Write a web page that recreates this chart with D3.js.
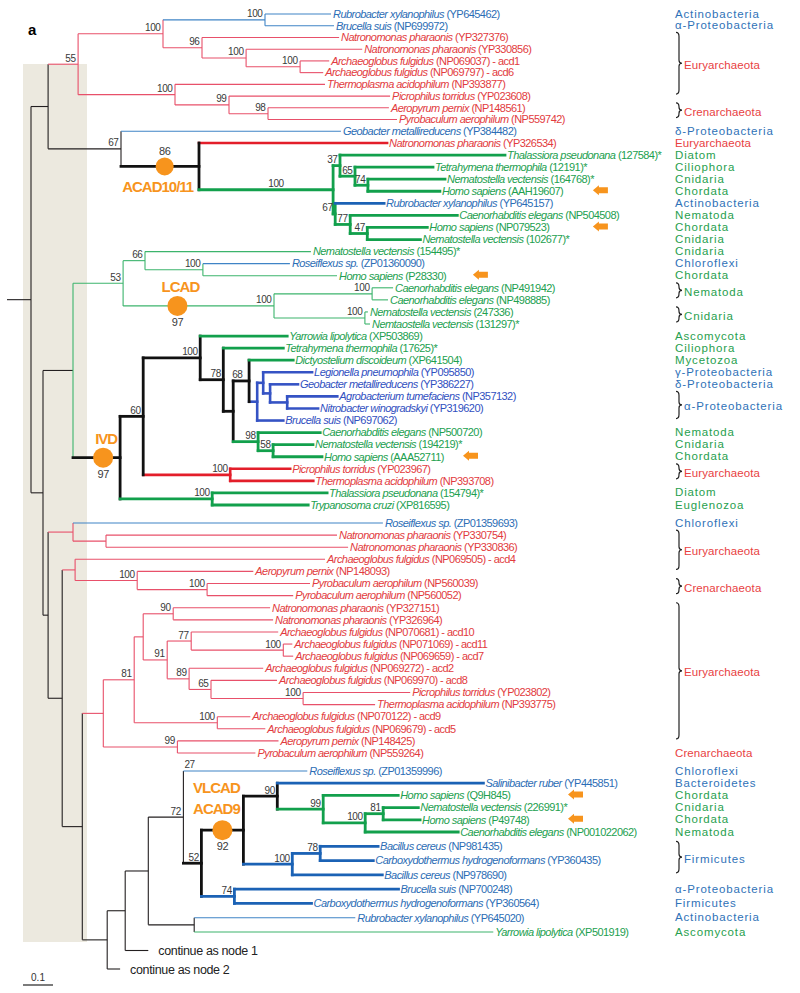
<!DOCTYPE html>
<html><head><meta charset="utf-8">
<script src="https://cdn.jsdelivr.net/npm/d3@7"></script>
<style>body{margin:0;background:#fff}svg{display:block}</style>
</head><body><svg id="c" width="800" height="993"></svg>
<script>
// ---------------- DATA ----------------
const species = ["Rubrobacter xylanophilus","Brucella suis","Natronomonas pharaonis","Natronomonas pharaonis","Archaeoglobus fulgidus","Archaeoglobus fulgidus","Thermoplasma acidophilum","Picrophilus torridus","Aeropyrum pernix","Pyrobaculum aerophilum",
"Geobacter metallireducens","Natronomonas pharaonis","Thalassiora pseudonana","Tetrahymena thermophila","Nematostella vectensis","Homo sapiens","Rubrobacter xylanophilus","Caenorhabditis elegans","Homo sapiens","Nematostella vectensis",
"Nematostella vectensis","Roseiflexus sp.","Homo sapiens","Caenorhabditis elegans","Caenorhabditis elegans","Nematostella vectensis","Nemtaostella vectensis","Yarrowia lipolytica","Tetrahymena thermophila","Dictyostelium discoideum",
"Legionella pneumophila","Geobacter metallireducens","Agrobacterium tumefaciens","Nitrobacter winogradskyi","Brucella suis","Caenorhabditis elegans","Nematostella vectensis","Homo sapiens","Picrophilus torridus","Thermoplasma acidophilum",
"Thalassiora pseudonana","Trypanosoma cruzi","Roseiflexus sp.","Natronomonas pharaonis","Natronomonas pharaonis","Archaeoglobus fulgidus","Aeropyrum pernix","Pyrobaculum aerophilum","Pyrobaculum aerophilum","Natronomonas pharaonis",
"Natronomonas pharaonis","Archaeoglobus fulgidus","Archaeoglobus fulgidus","Archaeoglobus fulgidus","Archaeoglobus fulgidus","Archaeoglobus fulgidus","Picrophilus torridus","Thermoplasma acidophilum","Archaeoglobus fulgidus","Archaeoglobus fulgidus",
"Aeropyrum pernix","Pyrobaculum aerophilum","Roseiflexus sp.","Salinibacter ruber","Homo sapiens","Nematostella vectensis","Homo sapiens","Caenorhabditis elegans","Bacillus cereus","Carboxydothermus hydrogenoformans",
"Bacillus cereus","Brucella suis","Carboxydothermus hydrogenoformans","Rubrobacter xylanophilus","Yarrowia lipolytica"];
const accession = ["(YP645462)","(NP699972)","(YP327376)","(YP330856)","(NP069037) - acd1","(NP069797) - acd6","(NP393877)","(YP023608)","(NP148561)","(NP559742)",
"(YP384482)","(YP326534)","(127584)*","(12191)*","(164768)*","(AAH19607)","(YP645157)","(NP504508)","(NP079523)","(102677)*",
"(154495)*","(ZP01360090)","(P28330)","(NP491942)","(NP498885)","(247336)","(131297)*","(XP503869)","(17625)*","(XP641504)",
"(YP095850)","(YP386227)","(NP357132)","(YP319620)","(NP697062)","(NP500720)","(194219)*","(AAA52711)","(YP023967)","(NP393708)",
"(154794)*","(XP816595)","(ZP01359693)","(YP330754)","(YP330836)","(NP069505) - acd4","(NP148093)","(NP560039)","(NP560052)","(YP327151)",
"(YP326964)","(NP070681) - acd10","(NP071069) - acd11","(NP069659) - acd7","(NP069272) - acd2","(NP069970) - acd8","(YP023802)","(NP393775)","(NP070122) - acd9","(NP069679) - acd5",
"(NP148425)","(NP559264)","(ZP01359996)","(YP445851)","(Q9H845)","(226991)*","(P49748)","(NP001022062)","(NP981435)","(YP360435)",
"(NP978690)","(NP700248)","(YP360564)","(YP645020)","(XP501919)"];
const stubLabels = ["continue as node 1","continue as node 2"]; // pseudo-leaves 76, 77

// Tree topology (Newick-like): leaf : branch length # branch style ; internal ) support [^ = label at top, ~ = label mid-branch] ! marker
const cladeTop = "(((1:0.220#b,2:0.230#b)100:0.340#b,(3:0.457#r,(4:0.387#r,(5:0.097#r,6:0.077#r)100:0.180#r)100:0.147#r)96:0.130#r)100:0.283#r,(7:0.500#r,(8:0.537#r,(9:0.403#r,10:0.430#r)98:0.130#r)99:0.180#r)100:0.323#r)55:0.100#r";
const cladeACAD10 = "(11:0.733#b,(12:0.627#R,((13:0.550#G,(14:0.260#G,(15:0.257#G,16:0.240#G)74:0.043#G)65:0.050#G)37:0.023#G,(17:0.163#B,(18:0.357#G,(19:0.200#G,20:0.177#G)47:0.057#G)77:0.050#G)67:0.007#G)100~:0.447#G)!ACAD:0.260#K)67:0.243#k";
const cladeLCAD = "((21:0.553#g,(22:0.290#b,23:0.447#g)100:0.193#g)66:0.073#g,((24:0.070#g,25:0.053#g)100:0.327#g,(26:0.010#g,27:0.017#g)100:0.303#g)100!LCAD:0.503#g)53:0.167#g";
const cladeIVD = "(((28:0.290#G,(29:0.200#G,((30:0.147#G,((31:0.163#V,(32:0.093#V,(33:0.167#V,34:0.103#V):0.057#V):0.023#V):0.020#V,35:0.087#V):0.027#V):0.053#K,(36:0.207#G,(37:0.133#G,38:0.163#G)58:0.050#G)98:0.083#G)68^:0.033#K)78:0.077#K)100:0.190#K,(39:0.200#R,40:0.277#R)100:0.290#R)60:0.077#K,(41:0.383#G,42:0.320#G)100:0.307#G)!IVD:0.157#K";
const cladeHalo = "(43:1.033#b,(44:0.770#r,45:0.807#r):0.110#r):0.083#r";
const cladeCren = "(46:0.833#r,(47:0.387#r,(48:0.343#r,49:0.287#r)100:0.233#r)100:0.207#r):0.043#r";
const cladeEury = "(((50:0.323#r,51:0.333#r)90:0.100#r,((52:0.290#r,(53:0.030#r,54:0.033#r)100:0.307#r)77:0.080#r,(55:0.247#r,(56:0.220#r,(57:0.357#r,58:0.240#r)100:0.307#r)65:0.073#r)89:0.073#r)91:0.080#r):0.030#r,(59:0.110#r,60:0.160#r)100:0.277#r)81:0.103#r";
const cladeEury2 = "(" + cladeEury + ",(61:0.337#r,62:0.260#r)99:0.247#r):0.070#r";
const cladeVLCAD = "((64:0.687#B,(65:0.250#G,((66:0.117#G,67:0.123#G)81:0.060#G,68:0.310#G)100:0.140#G)99:0.153#G)90:0.113#K,((69:0.193#B,70:0.177#B)78:0.093#B,71:0.300#B)100:0.163#B)!VLCAD:0.140#K";
const cladeBottom = "((((63:0.413#b@27,(" + cladeVLCAD + ",(72:0.547#B,73:0.257#B)74:0.110#B)52:0.060#K)72:0.117#k,(74:0.537#b,75:0.997#g):0.153#k):0.077#k,76:0.077#k):0.060#k,77:0.043#k):0.083#k";
const treeNewick = "((" + cladeTop + "," + cladeACAD10 + "):0.057#k,((" + cladeLCAD + "," + cladeIVD + "):0.100#k/g,(" + cladeHalo + ",(" + cladeCren + ",(" + cladeEury2 + "," + cladeBottom + "):0.067#k):0.047#k):0.017#k):0.040#k):0.080#k";

const markerNames = {ACAD:["ACAD10/11"], LCAD:["LCAD"], IVD:["IVD"], VLCAD:["VLCAD","ACAD9"]};
const markerSupport = {ACAD:"86", LCAD:"97", IVD:"97", VLCAD:"92"};
const arrowLeaves = [16,19,23,38,65,67];

const phylumNames = ["Actinobacteria","α-Proteobacteria","Euryarchaeota","Crenarchaeota","δ-Proteobacteria","Euryarchaeota","Diatom","Ciliophora","Cnidaria","Chordata",
"Actinobacteria","Nematoda","Chordata","Cnidaria","Cnidaria","Chloroflexi","Chordata","Nematoda","Cnidaria","Ascomycota",
"Ciliophora","Mycetozoa","γ-Proteobacteria","δ-Proteobacteria","α-Proteobacteria","Nematoda","Cnidaria","Chordata","Euryarchaeota","Diatom",
"Euglenozoa","Chloroflexi","Euryarchaeota","Crenarchaeota","Euryarchaeota","Crenarchaeota","Chloroflexi","Bacteroidetes","Chordata","Cnidaria",
"Chordata","Nematoda","Firmicutes","α-Proteobacteria","Firmicutes","Actinobacteria","Ascomycota"];
const phylumFirst = [1,2,3,9,11,12,13,14,15,16,17,18,19,20,21,22,23,24,26,28,29,30,31,32,33,36,37,38,39,41,42,43,44,48,50,62,63,64,65,66,67,68,69,72,73,74,75];
const phylumLast  = [1,2,8,10,11,12,13,14,15,16,17,18,19,20,21,22,23,25,27,28,29,30,31,32,35,36,37,38,40,41,42,43,47,49,61,62,63,64,65,66,67,68,71,72,73,74,75];
const phylumGroup = ["b","b","r","r","b","r","g","g","g","g","b","g","g","g","g","b","g","g","g","g","g","g","b","b","b","g","g","g","r","g","g","b","r","r","r","r","b","b","g","g","g","g","b","b","b","b","g"];

// ---------------- LAYOUT / STYLE ----------------
const FONT = '"Liberation Sans", Arial, Helvetica, sans-serif';
const lineStyle = {k:["#231f20",1.1],K:["#111111",2.8],r:["#e8506a",1.1],R:["#e31e2a",2.6],b:["#3f84c6",1.1],B:["#1b62b5",2.8],V:["#3553c4",2.6],g:["#3cb46c",1.1],G:["#12a04c",2.8]};
const textColor = {k:"#222",K:"#222",r:"#e23b3e",R:"#e23b3e",b:"#2c6db5",B:"#2c6db5",V:"#3150bf",g:"#22a04f",G:"#22a04f"};
const phylumColor = {b:"#2f72b8",r:"#e8413f",g:"#27a04e"};
const markerFrac = {ACAD:0.56, LCAD:0.36, IVD:0.64, VLCAD:0.5};
const markerR = {ACAD:9, LCAD:10, IVD:10, VLCAD:10};
const markerTextDx = {ACAD:-7, LCAD:3, IVD:3, VLCAD:-6};
const arrowDist = {16:1.953,19:1.953,23:1.553,38:1.52,65:1.87,67:1.87};
const orange = "#f7941d";

function parseNewick(s){
  let i=0;
  const take=re=>{const m=re.exec(s.slice(i)); if(!m) return null; i+=m[0].length; return m;};
  function node(){
    const n={};
    if(s[i]==='('){
      i++; n.children=[];
      while(true){ n.children.push(node()); if(s[i]===','){i++;} else break; }
      i++;
      const sup=take(/^\d+/); if(sup) n.support=sup[0];
      if(s[i]==='^'){ i++; n.supPos="top"; } else if(s[i]==='~'){ i++; n.supPos="mid"; }
      if(s[i]==='!'){ i++; n.marker=take(/^\w+/)[0]; }
    } else {
      n.leaf=+take(/^\d+/)[0];
    }
    if(s[i]===':'){ i++; n.len=+take(/^[\d.]+/)[0]; }
    if(s[i]==='#'){ i++; const m=take(/^([A-Za-z])(?:\/([A-Za-z]))?/); n.style=m[1]; n.vstyle=m[2]||m[1]; }
    if(s[i]==='@'){ i++; n.branchLabel=take(/^\d+/)[0]; }
    return n;
  }
  return node();
}

const svg = d3.select("#c");
const root = d3.hierarchy(parseNewick(treeNewick), d=>d.children);
root.each(d=>{ d.dist=(d.parent?d.parent.dist:0)+(d.data.len||0); });
const x = d3.scaleLinear().domain([0,1]).range([7,307]);
const y = d3.scaleLinear().domain([0,11,41,42,61,62,67,74,76]).range([14,143,505,523,753,771,832,932,969]);
root.eachAfter(d=>{
  if(d.children) d.py=(d.children[0].py+d.children[d.children.length-1].py)/2;
  else d.py=y(d.data.leaf-1);
});

svg.append("rect").attr("x",23).attr("y",64).attr("width",64).attr("height",878).attr("fill","#ece9df");

// branches
const segs=[];
root.each(d=>{
  const st=d.data.style||"k";
  const x0=d.parent?x(d.parent.dist):x(0);
  segs.push({x1:x0,x2:x(d.dist),y1:d.py,y2:d.py,s:st});
  if(d.children) segs.push({x1:x(d.dist),x2:x(d.dist),y1:d.children[0].py,y2:d.children[d.children.length-1].py,s:d.data.vstyle||st});
});
segs.sort((a,b)=>lineStyle[a.s][1]-lineStyle[b.s][1]);
svg.append("g").selectAll("line").data(segs).join("line")
  .attr("x1",d=>d.x1).attr("x2",d=>d.x2).attr("y1",d=>d.y1).attr("y2",d=>d.y2)
  .attr("stroke",d=>lineStyle[d.s][0]).attr("stroke-width",d=>lineStyle[d.s][1])
  .attr("stroke-linecap",d=>lineStyle[d.s][1]>2?"square":"butt");

// leaf labels
const leaves=root.leaves();
const realLeaves=leaves.filter(d=>d.data.leaf<=species.length);
const lt=svg.append("g").attr("font-family",FONT).attr("font-size",11).attr("letter-spacing",-0.55)
  .selectAll("text").data(realLeaves).join("text")
  .attr("x",d=>x(d.dist)+2).attr("y",d=>d.py+3.8).attr("fill",d=>textColor[d.data.style]);
lt.append("tspan").attr("font-style","italic").text(d=>species[d.data.leaf-1]);
lt.append("tspan").text(d=>" "+accession[d.data.leaf-1]);

svg.append("g").attr("font-family",FONT).attr("font-size",12.5).attr("letter-spacing",-0.35).attr("fill","#222")
  .selectAll("text").data(leaves.filter(d=>d.data.leaf>species.length)).join("text")
  .attr("x",d=>x(d.dist)+10).attr("y",d=>d.py+4.5).text(d=>stubLabels[d.data.leaf-species.length-1]);

// support values
const sg=svg.append("g").attr("font-family",FONT).attr("font-size",10).attr("letter-spacing",-0.4).attr("fill","#3a3a3a");
sg.selectAll("text.s").data(root.descendants().filter(d=>d.data.support)).join("text").attr("class","s")
  .each(function(d){
    const t=d3.select(this);
    if(d.data.supPos==="top"){
      t.attr("x",x(d.dist)-1).attr("y",d.children[0].py-3).attr("text-anchor","start");
    } else if(d.data.supPos==="mid"){
      t.attr("x",(x(d.dist)+x(d.parent.dist))/2+10).attr("y",d.py-3).attr("text-anchor","middle");
    } else {
      t.attr("x",x(d.dist)-2.5).attr("y",d.py-2.5).attr("text-anchor","end");
    }
  }).text(d=>d.data.support);
sg.selectAll("text.bl").data(root.descendants().filter(d=>d.data.branchLabel)).join("text").attr("class","bl")
  .attr("x",d=>x(d.parent.dist)+1).attr("y",d=>d.py-3).text(d=>d.data.branchLabel);

// orange markers
const mg=svg.append("g").attr("font-family",FONT);
root.descendants().filter(d=>d.data.marker).forEach(d=>{
  const id=d.data.marker;
  const cx=x(d.parent.dist)+(x(d.dist)-x(d.parent.dist))*markerFrac[id], cy=d.py;
  mg.append("circle").attr("cx",cx).attr("cy",cy).attr("r",markerR[id]).attr("fill",orange);
  const names=markerNames[id];
  const nameBelow = id==="ACAD";
  names.forEach((nm,k)=>{
    const by = nameBelow ? cy+26 : cy-14-(names.length>1?2:0)-(names.length-1-k)*21;
    mg.append("text").attr("x",cx+markerTextDx[id]).attr("y",by).attr("text-anchor","middle")
      .attr("font-size",15).attr("font-weight","bold").attr("letter-spacing",-1).attr("fill",orange).text(nm);
  });
  mg.append("text").attr("x",cx).attr("y",nameBelow?cy-11:cy+20).attr("text-anchor","middle")
    .attr("font-size",11).attr("letter-spacing",-0.4).attr("fill","#3a3a3a").text(markerSupport[id]);
});

// arrows
svg.append("g").selectAll("path").data(arrowLeaves).join("path")
  .attr("d",li=>{const d=leaves.find(l=>l.data.leaf===li); const ax=x(arrowDist[li]), ay=d.py-1;
    return `M${ax},${ay} L${ax+6},${ay-5} L${ax+6},${ay-3} L${ax+15},${ay-3} L${ax+15},${ay+3} L${ax+6},${ay+3} L${ax+6},${ay+5} Z`;})
  .attr("fill",orange);

// phylum column
const pg=svg.append("g").attr("font-family",FONT).attr("font-size",11.5);
const leafY=i=>y(i-1);
phylumNames.forEach((nm,i)=>{
  const y0=leafY(phylumFirst[i]), y1=leafY(phylumLast[i]);
  const brace=phylumFirst[i]!==phylumLast[i];
  const mid=(y0+y1)/2;
  if(brace){
    const bx=676, t=y0-5, b=y1-2, m=(t+b)/2, w=3;
    pg.append("path").attr("d",`M${bx},${t} Q${bx+w},${t} ${bx+w},${t+4} L${bx+w},${m-3} Q${bx+w},${m} ${bx+2*w},${m} Q${bx+w},${m} ${bx+w},${m+3} L${bx+w},${b-4} Q${bx+w},${b} ${bx},${b}`)
      .attr("fill","none").attr("stroke","#222").attr("stroke-width",1.2);
  }
  pg.append("text").attr("x",brace?684:675).attr("y",(brace?mid-1.5:mid)+3.5)
    .attr("fill",phylumColor[phylumGroup[i]]).attr("letter-spacing",phylumGroup[i]==="r"?0.1:0.85).text(nm);
});

svg.append("text").attr("x",28).attr("y",35).attr("font-family",FONT).attr("font-size",15).attr("font-weight","bold").text("a");

// scale bar
const sbx=23, sby=985;
svg.append("line").attr("x1",sbx).attr("x2",sbx+x(0.1)-x(0)).attr("y1",sby).attr("y2",sby).attr("stroke","#222").attr("stroke-width",1.2);
svg.append("text").attr("x",sbx+(x(0.1)-x(0))/2).attr("y",sby-4).attr("text-anchor","middle").attr("font-family",FONT).attr("font-size",10).attr("fill","#333").text("0.1");
</script></body></html>
